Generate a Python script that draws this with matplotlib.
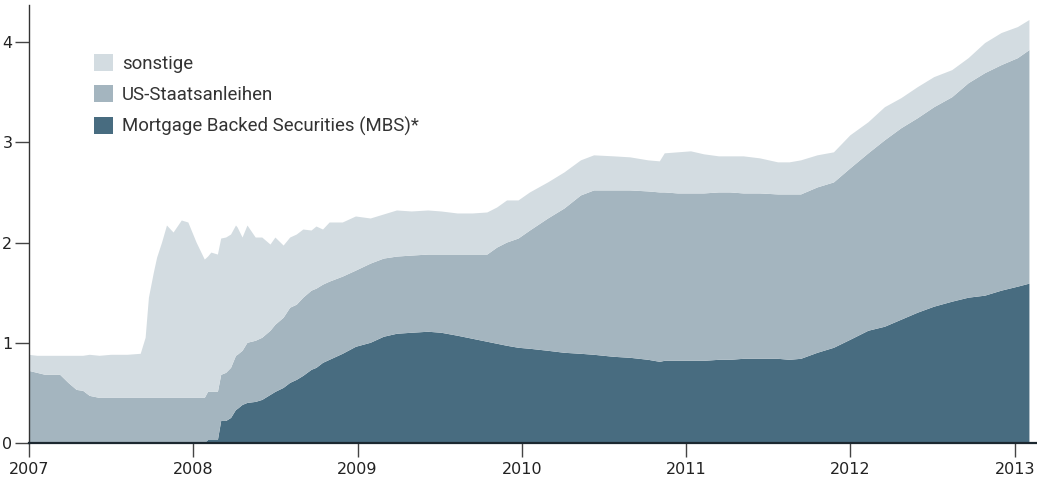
import numpy as np
import matplotlib.pyplot as plt
from matplotlib.patches import Patch

# Zeit in Dezimaljahren, Werte in Billionen US-Dollar
t = [2007.00, 2007.05, 2007.10, 2007.19, 2007.24, 2007.29, 2007.33, 2007.37, 2007.43, 2007.50,
     2007.60, 2007.68, 2007.71, 2007.73, 2007.76, 2007.78, 2007.81, 2007.84, 2007.88, 2007.93,
     2007.97, 2008.02, 2008.07, 2008.09, 2008.11, 2008.15, 2008.17, 2008.20, 2008.23, 2008.26,
     2008.27, 2008.30, 2008.33, 2008.38, 2008.42, 2008.47, 2008.50, 2008.55, 2008.59, 2008.63,
     2008.67, 2008.72, 2008.75, 2008.79, 2008.83, 2008.91, 2008.99, 2009.08, 2009.16, 2009.24,
     2009.33, 2009.43, 2009.51, 2009.61, 2009.70, 2009.79, 2009.85, 2009.91, 2009.98, 2010.05,
     2010.16, 2010.26, 2010.36, 2010.44, 2010.56, 2010.66, 2010.77, 2010.84, 2010.87, 2010.95,
     2011.03, 2011.11, 2011.20, 2011.27, 2011.35, 2011.45, 2011.56, 2011.63, 2011.70, 2011.80,
     2011.90, 2012.00, 2012.11, 2012.21, 2012.31, 2012.41, 2012.51, 2012.62, 2012.72, 2012.82,
     2012.92, 2013.02, 2013.09]

mbs = [0, 0, 0, 0, 0, 0, 0, 0, 0, 0,
       0, 0, 0, 0, 0, 0, 0, 0, 0, 0,
       0, 0, 0, 0.03, 0.03, 0.03, 0.22, 0.22, 0.25, 0.33,
       0.34, 0.38, 0.40, 0.41, 0.43, 0.48, 0.51, 0.55, 0.60, 0.63,
       0.67, 0.73, 0.75, 0.80, 0.83, 0.89, 0.96, 1.00, 1.06, 1.09,
       1.10, 1.11, 1.10, 1.07, 1.04, 1.01, 0.99, 0.97, 0.95, 0.94,
       0.92, 0.90, 0.89, 0.88, 0.86, 0.85, 0.83, 0.81, 0.82, 0.82,
       0.82, 0.82, 0.83, 0.83, 0.84, 0.84, 0.84, 0.83, 0.84, 0.90,
       0.95, 1.03, 1.12, 1.16, 1.23, 1.30, 1.36, 1.41, 1.45, 1.47,
       1.52, 1.56, 1.59]

ust = [0.72, 0.70, 0.68, 0.68, 0.60, 0.53, 0.52, 0.47, 0.45, 0.45,
       0.45, 0.45, 0.45, 0.45, 0.45, 0.45, 0.45, 0.45, 0.45, 0.45,
       0.45, 0.45, 0.45, 0.48, 0.48, 0.48, 0.46, 0.48, 0.50, 0.54,
       0.54, 0.54, 0.60, 0.61, 0.62, 0.64, 0.67, 0.70, 0.75, 0.75,
       0.78, 0.79, 0.79, 0.78, 0.78, 0.77, 0.76, 0.79, 0.78, 0.77,
       0.77, 0.77, 0.78, 0.81, 0.84, 0.87, 0.96, 1.03, 1.09, 1.18,
       1.32, 1.44, 1.58, 1.64, 1.66, 1.67, 1.68, 1.69, 1.68, 1.67,
       1.67, 1.67, 1.67, 1.67, 1.65, 1.65, 1.64, 1.65, 1.64, 1.65,
       1.65, 1.71, 1.77, 1.86, 1.91, 1.94, 1.99, 2.04, 2.14, 2.22,
       2.25, 2.28, 2.33]

sonstige = [0.16, 0.17, 0.19, 0.19, 0.27, 0.34, 0.35, 0.41, 0.42, 0.43,
            0.43, 0.44, 0.60, 1.00, 1.25, 1.40, 1.55, 1.72, 1.65, 1.77,
            1.75, 1.55, 1.38, 1.35, 1.39, 1.37, 1.36, 1.35, 1.33, 1.30,
            1.27, 1.13, 1.17, 1.03, 1.00, 0.86, 0.87, 0.72, 0.70, 0.70,
            0.68, 0.60, 0.62, 0.55, 0.59, 0.54, 0.54, 0.45, 0.44, 0.46,
            0.44, 0.44, 0.43, 0.41, 0.41, 0.42, 0.40, 0.42, 0.38, 0.38,
            0.36, 0.36, 0.35, 0.35, 0.34, 0.33, 0.31, 0.31, 0.39, 0.41,
            0.42, 0.39, 0.36, 0.36, 0.37, 0.35, 0.32, 0.32, 0.34, 0.32,
            0.30, 0.33, 0.31, 0.33, 0.30, 0.31, 0.30, 0.27, 0.25, 0.30,
            0.32, 0.31, 0.30]

labels = ["Mortgage Backed Securities (MBS)*", "US-Staatsanleihen", "sonstige"]
colors = ["#486c80", "#a4b5bf", "#d3dce1"]
years = [2007, 2008, 2009, 2010, 2011, 2012, 2013]

fig = plt.figure(figsize=(10.37, 4.78), dpi=100)
ax = fig.add_axes([29 / 1037, 1 - 443 / 478, 1 - 30 / 1037, 438 / 478])

ax.stackplot(t, mbs, ust, sonstige, colors=colors, linewidth=0)

ax.set_xlim(2007, 2013.13)
ax.set_ylim(0, 4.37)
ax.set_xticks(years)
ax.set_yticks([0, 1, 2, 3, 4])

for s in ["top", "right"]:
    ax.spines[s].set_visible(False)
ax.spines["left"].set_color("#333333")
ax.spines["left"].set_linewidth(1)
ax.spines["bottom"].set_color("#1c2830")
ax.spines["bottom"].set_linewidth(1.6)
ax.spines["bottom"].set_zorder(5)

tick_font = ["Liberation Sans Narrow", "DejaVu Sans"]
ax.tick_params(axis="both", direction="out", length=10, width=1, color="#444444",
               labelcolor="#222222", labelsize=11.5)
ax.tick_params(axis="x", pad=4)
ax.tick_params(axis="y", pad=2)
for lab in ax.get_xticklabels() + ax.get_yticklabels():
    lab.set_family(tick_font)

handles = [Patch(facecolor=c, edgecolor="none") for c in colors[::-1]]
ax.legend(handles, labels[::-1], loc="upper left", frameon=False,
          bbox_to_anchor=(85 / 1037, 1 - 45 / 478), bbox_transform=fig.transFigure,
          borderpad=0, handlelength=1.02, handleheight=1.02, handletextpad=0.45,
          labelspacing=0.66, prop={"family": "Roboto", "size": 13.4},
          labelcolor="#333333")

fig.savefig("out.png", dpi=100)
